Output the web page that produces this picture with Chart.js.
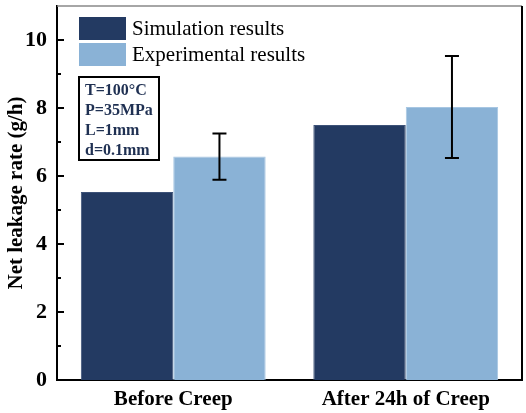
<!DOCTYPE html>
<html>
<head>
<meta charset="utf-8">
<script src="https://cdn.jsdelivr.net/npm/chart.js@4.4.0/dist/chart.umd.min.js"></script>
<style>
  html, body { margin: 0; padding: 0; background: #fff; }
  #wrap { width: 526px; height: 413px; }
</style>
</head>
<body>
<div id="wrap"><canvas id="leakChart"></canvas></div>
<script>
// data
const categories = ['Before Creep', 'After 24h of Creep'];
const simValues = [5.53, 7.5];
const expValues = [6.57, 8.03];
const expErrors = [0.68, 1.5];
const majorTicks = [0, 2, 4, 6, 8, 10];
const minorTicks = [1, 3, 5, 7, 9];
const noteLines = ['T=100\u00B0C', 'P=35MPa', 'L=1mm', 'd=0.1mm'];

const serif = "'Liberation Serif', 'Times New Roman', serif";

// frame, inward ticks, error bars, legend and note box
const decorations = {
  id: 'decorations',
  afterDatasetsDraw(chart) {
    const c = chart.ctx;
    const y = chart.scales.y;

    // error bars on experimental series
    const meta = chart.getDatasetMeta(1);
    c.save();
    c.strokeStyle = '#000';
    c.lineWidth = 2;
    meta.data.forEach((bar, i) => {
      const v = expValues[i];
      const yHi = y.getPixelForValue(v + expErrors[i]);
      const yLo = y.getPixelForValue(v - expErrors[i]);
      c.beginPath();
      c.moveTo(bar.x, yHi); c.lineTo(bar.x, yLo);
      c.moveTo(bar.x - 7, yHi); c.lineTo(bar.x + 7, yHi);
      c.moveTo(bar.x - 7, yLo); c.lineTo(bar.x + 7, yLo);
      c.stroke();
    });
    c.restore();
  },
  afterDraw(chart) {
    const c = chart.ctx;
    const y = chart.scales.y;
    const a = chart.chartArea;
    c.save();

    // top and right frame
    c.strokeStyle = '#888';
    c.lineWidth = 1.5;
    c.beginPath();
    c.moveTo(a.left, a.top); c.lineTo(a.right, a.top);
    c.stroke();
    c.strokeStyle = '#000';
    c.lineWidth = 2;
    c.beginPath();
    c.moveTo(a.right, a.top); c.lineTo(a.right, a.bottom);
    c.stroke();

    // inward ticks on the y axis
    c.lineWidth = 2;
    majorTicks.forEach(v => {
      const py = y.getPixelForValue(v);
      c.beginPath(); c.moveTo(a.left, py); c.lineTo(a.left + 7, py); c.stroke();
    });
    minorTicks.forEach(v => {
      const py = y.getPixelForValue(v);
      c.beginPath(); c.moveTo(a.left, py); c.lineTo(a.left + 4, py); c.stroke();
    });

    // legend
    const lx = a.left + 22;
    let ly = a.top + 11;
    c.font = '21px ' + serif;
    c.textBaseline = 'middle';
    c.textAlign = 'left';
    chart.data.datasets.forEach(ds => {
      c.fillStyle = ds.backgroundColor;
      c.fillRect(lx, ly, 47, 23);
      c.fillStyle = '#000';
      c.fillText(ds.label, lx + 53, ly + 12);
      ly += 26;
    });

    // note box
    const bx = a.left + 22, by = a.top + 71, bw = 80, bh = 83;
    c.strokeStyle = '#000';
    c.lineWidth = 2;
    c.strokeRect(bx, by, bw, bh);
    c.font = 'bold 16px ' + serif;
    c.fillStyle = '#1f3052';
    noteLines.forEach((t, i) => {
      c.fillText(t, bx + 6, by + 14 + i * 20);
    });

    c.restore();
  }
};

new Chart(document.getElementById('leakChart'), {
  type: 'bar',
  data: {
    labels: categories,
    datasets: [
      {
        label: 'Simulation results',
        data: simValues,
        backgroundColor: '#233a62',
        borderColor: '#3d5278',
        borderWidth: 1,
        borderSkipped: 'bottom'
      },
      {
        label: 'Experimental results',
        data: expValues,
        backgroundColor: '#8ab2d6',
        borderColor: '#a7c6e2',
        borderWidth: 1,
        borderSkipped: 'bottom'
      }
    ]
  },
  options: {
    responsive: true,
    maintainAspectRatio: false,
    animation: false,
    layout: { padding: { top: 6, right: 4, left: 0, bottom: 0 } },
    datasets: {
      bar: { categoryPercentage: 0.795, barPercentage: 1 }
    },
    plugins: {
      legend: { display: false },
      tooltip: { enabled: false }
    },
    scales: {
      x: {
        grid: { display: false, drawTicks: false },
        border: { display: true, color: '#000', width: 2 },
        ticks: {
          color: '#000',
          padding: 7,
          font: { family: serif, size: 21, weight: 'bold' }
        },
        afterFit(scale) {
          scale.height = 33;
          scale.paddingLeft = 0;
          scale.paddingRight = 0;
        }
      },
      y: {
        min: 0,
        max: 11,
        afterBuildTicks(scale) { scale.ticks = majorTicks.map(v => ({ value: v })); },
        grid: { display: false, drawTicks: false },
        border: { display: true, color: '#000', width: 2 },
        ticks: {
          color: '#000',
          padding: 10,
          font: { family: serif, size: 22, weight: 'bold' }
        },
        title: {
          display: true,
          text: 'Net leakage rate (g/h)',
          color: '#000',
          padding: { top: 4, bottom: 0 },
          font: { family: serif, size: 21, weight: 'bold' }
        },
        afterFit(scale) {
          scale.width = 57;
          scale.paddingTop = 0;
          scale.paddingBottom = 0;
        }
      }
    }
  },
  plugins: [decorations]
});
</script>
</body>
</html>
